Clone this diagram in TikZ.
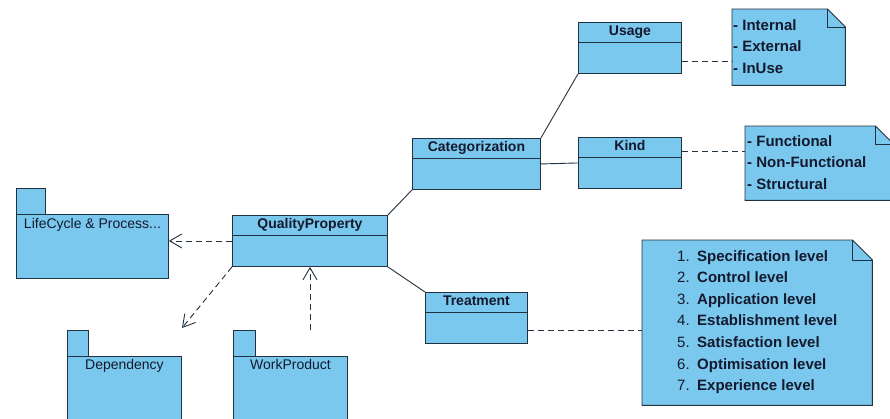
\documentclass[tikz,border=0pt]{standalone}
\usepackage{fontspec}
\setmainfont{Liberation Sans}
\usetikzlibrary{arrows.meta,positioning}
\definecolor{umlblue}{RGB}{122,200,238}
\definecolor{umlline}{RGB}{35,50,65}
\definecolor{umltext}{RGB}{20,25,45}

\begin{document}
\begin{tikzpicture}[x=1pt,y=-1pt,
    classbox/.style={draw=umlline,fill=umlblue,line width=0.9pt,anchor=north west,minimum height=51,inner sep=0},
    classhead/.style={draw=umlline,fill=umlblue,line width=0.9pt,anchor=north west,minimum height=19.5,inner sep=0,
        text height=10pt,text depth=2.5pt,font=\bfseries\fontsize{14}{16}\selectfont,text=umltext},
    pkgtab/.style={draw=umlline,fill=umlblue,line width=0.9pt,anchor=north west,minimum height=26,inner sep=0},
    pkgbody/.style={draw=umlline,fill=umlblue,line width=0.9pt,anchor=north west,inner sep=0},
    pkgname/.style={inner sep=0,text height=10pt,text depth=2.5pt,font=\fontsize{14}{16}\selectfont,text=umltext},
    notebox/.style={anchor=north west,inner sep=0},
    notetext/.style={anchor=north west,align=left,inner sep=0,font=\bfseries\fontsize{15}{21.6}\selectfont,text=umltext},
    assoc/.style={draw=umlline,line width=0.9pt},
    dep/.style={draw=umlline,line width=0.9pt,dash pattern=on 6pt off 4pt},
    depend/.style={dep,-{Straight Barb[length=12pt,width=14pt]}}]

\clip (0,0) rectangle (890,418);
\fill[white] (0,0) rectangle (890,418);

% classes
\node[classbox,minimum width=155] (qp) at (232,215) {};
\node[classhead,minimum width=155] (qphead) at (232,215) {QualityProperty};
\node[classbox,minimum width=128] (cat) at (412,138) {};
\node[classhead,minimum width=128] (cathead) at (412,138) {Categorization};
\node[classbox,minimum width=103] (usage) at (578,22) {};
\node[classhead,minimum width=103] (usagehead) at (578,22) {Usage};
\node[classbox,minimum width=103] (kind) at (578,137) {};
\node[classhead,minimum width=103] (kindhead) at (578,137) {Kind};
\node[classbox,minimum width=102] (treat) at (425,292) {};
\node[classhead,minimum width=102] (treathead) at (425,292) {Treatment};

% packages
\node[pkgtab,minimum width=29] (lctab) at (16,188) {};
\node[pkgbody,minimum width=152,minimum height=64] (lc) at (16,214) {};
\node[pkgname] (lcname) at ([yshift=-11]lc.north) {LifeCycle \& Process...};
\node[pkgtab,minimum width=21] (deptab) at (67,330) {};
\node[pkgbody,minimum width=114,minimum height=80] (depkg) at (67,356) {};
\node[pkgname] (depname) at ([yshift=-10]depkg.north) {Dependency};
\node[pkgtab,minimum width=22] (wptab) at (233,330) {};
\node[pkgbody,minimum width=114,minimum height=80] (wp) at (233,356) {};
\node[pkgname] (wpname) at ([yshift=-10]wp.north) {WorkProduct};

% notes
\node[notebox,minimum width=113,minimum height=76] (n1) at (732,9) {};
\filldraw[fill=umlblue,draw=umlline,line width=0.9pt] (n1.south west) -- (n1.north west) -- ([xshift=-18]n1.north east)
    -- ([yshift=-18]n1.north east) -- (n1.south east) -- cycle;
\draw[umlline,line width=0.9pt] ([xshift=-18]n1.north east) |- ([yshift=-18]n1.north east);
\node[notetext] (n1txt) at (733,19) {- Internal\\- External\\- InUse};

\node[notebox,minimum width=148,minimum height=74] (n2) at (745,126) {};
\filldraw[fill=umlblue,draw=umlline,line width=0.9pt] (n2.south west) -- (n2.north west) -- ([xshift=-18]n2.north east)
    -- ([yshift=-18]n2.north east) -- (n2.south east) -- cycle;
\draw[umlline,line width=0.9pt] ([xshift=-18]n2.north east) |- ([yshift=-18]n2.north east);
\node[notetext] (n2txt) at (747,135) {- Functional\\- Non-Functional\\- Structural};

\node[notebox,minimum width=230,minimum height=165] (n3) at (642,240) {};
\filldraw[fill=umlblue,draw=umlline,line width=0.9pt] (n3.south west) -- (n3.north west) -- ([xshift=-20]n3.north east)
    -- ([yshift=-20]n3.north east) -- (n3.south east) -- cycle;
\draw[umlline,line width=0.9pt] ([xshift=-20]n3.north east) |- ([yshift=-20]n3.north east);
\node[notetext] (n3txt) at (677,250) {\makebox[20pt][l]{\mdseries 1.}Specification level\\
    \makebox[20pt][l]{\mdseries 2.}Control level\\
    \makebox[20pt][l]{\mdseries 3.}Application level\\
    \makebox[20pt][l]{\mdseries 4.}Establishment level\\
    \makebox[20pt][l]{\mdseries 5.}Satisfaction level\\
    \makebox[20pt][l]{\mdseries 6.}Optimisation level\\
    \makebox[20pt][l]{\mdseries 7.}Experience level};

% associations
\path (cat.south west) edge[assoc] (qp.north east);
\path (cat.north east) edge[assoc] (usage.south west);
\path (cat.east) edge[assoc] (kind.west);
\path (qp.south east) edge[assoc] (treat.north west);

% note links
\path ([yshift=-13.5]usage.east) edge[dep] ([yshift=-13.5]usage.east -| n1.west);
\path ([yshift=12]kind.east) edge[dep] ([yshift=12]kind.east -| n2.west);
\path ([yshift=-12.5]treat.east) edge[dep] ([yshift=-12.5]treat.east -| n3.west);

% dependencies
\coordinate (deptip) at (182,328);
\coordinate (wpfrom) at (310,330);
\path (qp.west) edge[depend] (qp.west -| lc.east);
\path (qp.south west) edge[depend] (deptip);
\path (wpfrom) edge[depend] (wpfrom |- qp.south);

\end{tikzpicture}
\end{document}
